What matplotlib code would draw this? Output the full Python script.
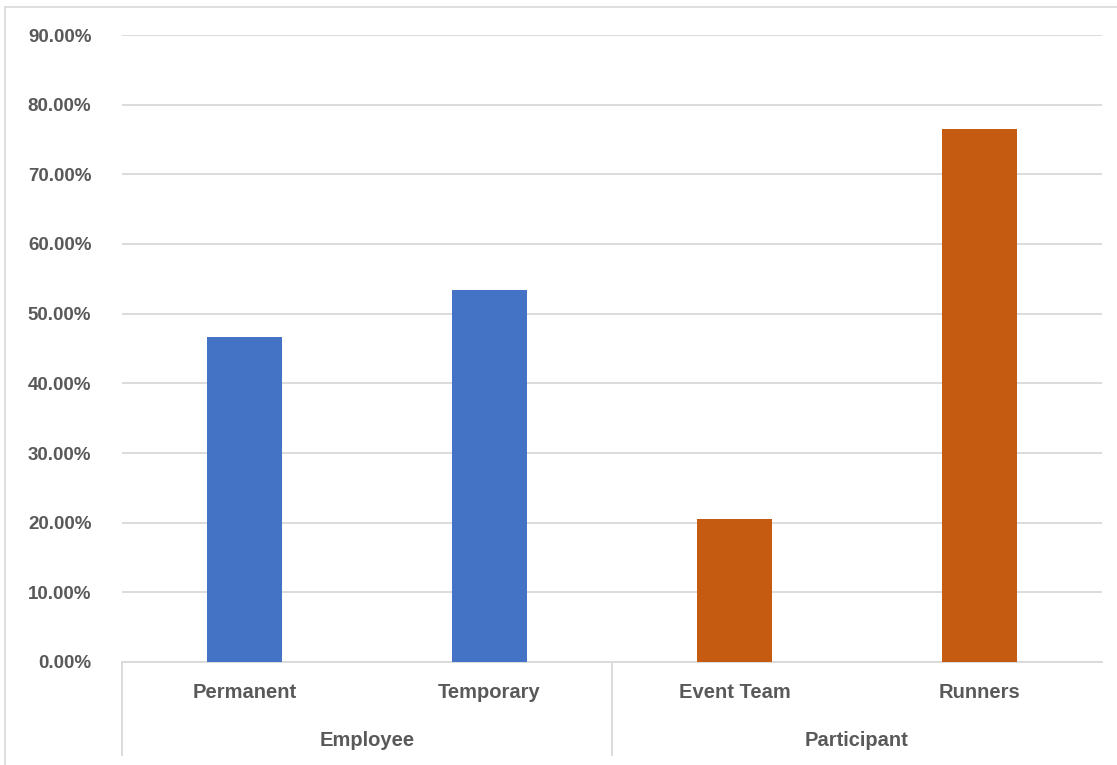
import matplotlib
matplotlib.use('Agg')
import matplotlib.pyplot as plt
from matplotlib.ticker import PercentFormatter
from matplotlib.lines import Line2D

# data
groups = ['Employee', 'Participant']
cats = ['Permanent', 'Temporary', 'Event Team', 'Runners']
cat_group = [0, 0, 1, 1]
vals = [46.67, 53.33, 20.59, 76.47]
group_colors = ['#4472C4', '#C55A11']
yticks = [0, 10, 20, 30, 40, 50, 60, 70, 80, 90]

plt.rcParams['font.family'] = ['Liberation Sans Narrow', 'Liberation Sans', 'DejaVu Sans']
txt = '#595959'

fig = plt.figure(figsize=(11.17, 7.65), dpi=100)
ax = fig.add_axes([122/1117, 1-662/765, (1102-122)/1117, (662-35)/765])

x = list(range(len(cats)))
cols = [group_colors[g] for g in cat_group]
ax.bar(x, vals, width=0.31, color=cols, zorder=3)

ax.set_xlim(-0.5, len(cats)-0.5)
ax.set_ylim(0, 90)
ax.set_yticks(yticks)
ax.yaxis.set_major_formatter(PercentFormatter(decimals=2))
ax.grid(axis='y', color='#D9D9D9', linewidth=1.3, zorder=0)
ax.tick_params(axis='y', length=0, pad=22, labelsize=13.5, labelcolor=txt)
for lab in ax.get_yticklabels():
    lab.set_fontweight('bold')
ax.set_xticks([])
for s in ['top', 'right', 'left']:
    ax.spines[s].set_visible(False)
ax.spines['bottom'].set_color('#D9D9D9')
ax.spines['bottom'].set_linewidth(1.3)

# two-level category axis
tr = ax.get_xaxis_transform()
for i, c in enumerate(cats):
    ax.text(i, -31/627, c, transform=tr, ha='center', va='center',
            fontsize=14.5, fontweight='bold', color=txt)
for gi, g in enumerate(groups):
    idx = [i for i, cg in enumerate(cat_group) if cg == gi]
    mid = (idx[0] + idx[-1]) / 2
    ax.text(mid, -79/627, g, transform=tr, ha='center', va='center',
            fontsize=14.5, fontweight='bold', color=txt)
# separators between groups
seps = [-0.5]
for i in range(1, len(cats)):
    if cat_group[i] != cat_group[i-1]:
        seps.append(i - 0.5)
for s in seps:
    ax.add_line(Line2D([s, s], [0, -93/627], transform=tr, color='#D9D9D9',
                       linewidth=1.3, clip_on=False))

# chart frame
fig.add_artist(Line2D([5/1117, 5/1117], [0, 1-7/765], color='#D9D9D9', linewidth=1.2))
fig.add_artist(Line2D([5/1117, 1], [1-7/765, 1-7/765], color='#D9D9D9', linewidth=1.2))

fig.savefig('out.png', dpi=100)
